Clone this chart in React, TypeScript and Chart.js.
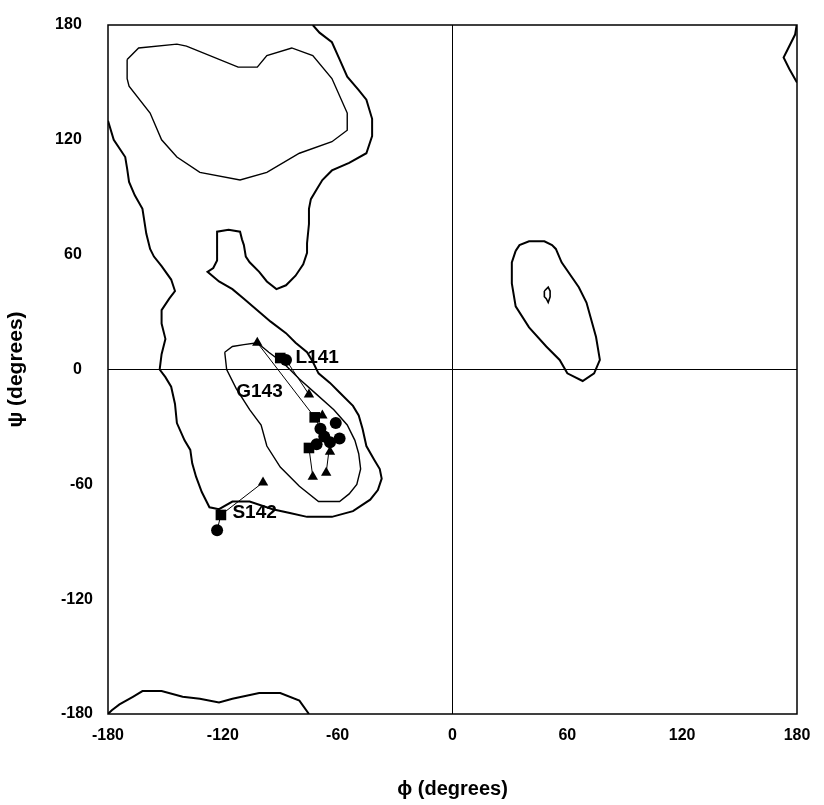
import React, { useEffect, useRef } from "react";
import { Chart, registerables } from "chart.js";

Chart.register(...registerables);

// Axis ticks (degrees)
const axisTicks = [-180, -120, -60, 0, 60, 120, 180];

// Contours: [phi, psi] in degrees
const outerMain: [number, number][] = [
  [-73, 180], [-69.5, 176], [-63, 171], [-59, 162], [-55, 153], [-49, 146], [-45, 141], [-42, 131], [-42, 122],
  [-45, 113], [-54, 108], [-63, 104], [-68, 99], [-71, 94], [-74, 89], [-75, 84], [-75, 76], [-76, 66], [-76, 61],
  [-78, 55], [-82, 49], [-87, 44], [-92, 42], [-97, 46], [-101, 51], [-106, 56], [-108, 59], [-109, 65], [-110, 68],
  [-111, 72], [-117, 73], [-123, 72], [-123, 65], [-123, 57], [-125, 53], [-128, 51], [-122, 46], [-115, 42],
  [-109, 37], [-102, 31], [-95, 25], [-87, 19], [-82, 14], [-76, 9], [-73, 4], [-70, -2], [-64, -7], [-59, -12],
  [-52, -19], [-49, -24], [-47, -31], [-45, -40], [-41, -47], [-38, -52], [-37, -57], [-39, -63], [-43, -68],
  [-52, -74], [-63, -77], [-76, -77], [-85, -75], [-94, -73], [-106, -69], [-115, -69], [-122, -73], [-127, -72],
  [-131, -64], [-134, -56], [-136, -49], [-137, -42], [-140, -37], [-144, -28], [-145, -18], [-147, -9], [-150, -4],
  [-153, 0], [-152, 8], [-150, 16], [-152, 24], [-152, 31], [-148, 37], [-145, 41], [-147, 47], [-152, 54],
  [-156, 59], [-158, 63], [-160, 71], [-162, 84], [-166, 91], [-169, 98], [-170, 105], [-171, 111], [-177, 120],
  [-180, 130],
];

const outerBottom: [number, number][] = [
  [-180, -180], [-178, -178], [-174, -175], [-167, -171], [-162, -168], [-152, -168], [-141, -171], [-132, -172],
  [-122, -174], [-115, -172], [-101, -169], [-90, -169], [-80, -173], [-75, -180],
];

const outerCorner: [number, number][] = [
  [180, 181], [179, 175], [173, 163], [176, 157], [180, 150],
];

const innerBeta: [number, number][] = [
  [-170, 162], [-164, 168], [-144, 170], [-139, 169], [-112, 158], [-102, 158], [-97, 164], [-84, 168], [-73, 164],
  [-63, 152], [-55, 134], [-55, 125], [-63, 119], [-80, 113], [-97, 103], [-111, 99], [-132, 103], [-144, 111],
  [-152, 120], [-158, 134], [-169, 148], [-170, 152], [-170, 162],
];

const innerAlpha: [number, number][] = [
  [-119, 9], [-115, 12], [-109, 13], [-102, 14], [-96, 9], [-88, 3], [-80, -5], [-71, -13], [-62, -21], [-55, -29],
  [-51, -37], [-49, -44], [-48, -52], [-50, -60], [-54, -65], [-59, -69], [-70, -69], [-80, -61], [-90, -51],
  [-97, -40], [-100, -29], [-106, -21], [-113, -10], [-118, 0], [-119, 9],
];

const lobeAlphaL: [number, number][] = [
  [33, 62], [35, 65], [40, 67], [48, 67], [52, 65], [54, 63], [57, 56], [66, 43], [70, 35], [75, 17], [77, 5],
  [74, -2], [68, -6], [60, -2], [56, 5], [49, 12], [40, 22], [33, 33], [31, 45], [31, 56], [33, 62],
];

const lobeAlphaLCore: [number, number][] = [
  [48, 41], [50, 43], [51, 41], [51, 38], [50, 35], [49, 37], [48, 38], [48, 41],
];

// Residue markers (phi, psi)
const circlePoints: [number, number][] = [
  [-87, 5], [-123, -84], [-69, -31], [-71, -39], [-64, -38], [-61, -28], [-59, -36], [-67, -35],
];
const squarePoints: [number, number][] = [
  [-90, 6], [-121, -76], [-72, -25], [-75, -41],
];
const trianglePoints: [number, number][] = [
  [-75, -13], [-99, -59], [-102, 14], [-73, -56], [-66, -54], [-68, -24], [-64, -43],
];

// Traces connecting the same residue
const traceL141: [number, number][] = [[-90, 6], [-87, 5], [-75, -13]];
const traceS142: [number, number][] = [[-123, -84], [-121, -76], [-99, -59]];
const traceG143: [number, number][] = [[-102, 14], [-72, -25], [-69, -31]];
const traceHelixA: [number, number][] = [[-75, -41], [-73, -56]];
const traceHelixB: [number, number][] = [[-64, -38], [-66, -54]];

// Residue labels
const labelTexts = ["L141", "S142", "G143"];
const labelPhi = [-82, -115, -113];
const labelPsi = [6, -75, -11.5];

const FONT = "'Liberation Sans', Arial, Helvetica, sans-serif";

const toXY = (pts: [number, number][]) => pts.map(([x, y]) => ({ x, y }));

const framePlugin = {
  id: "frameAndLabels",
  afterDatasetsDraw(chart: any) {
    const { ctx, chartArea: a, scales } = chart;
    const xs = scales.x;
    const ys = scales.y;
    ctx.save();
    ctx.strokeStyle = "#000";
    ctx.lineWidth = 1.5;
    ctx.strokeRect(a.left, a.top, a.right - a.left, a.bottom - a.top);
    ctx.font = `bold 19px ${FONT}`;
    ctx.fillStyle = "#000";
    ctx.textAlign = "left";
    ctx.textBaseline = "middle";
    labelTexts.forEach((t, i) => {
      ctx.fillText(t, xs.getPixelForValue(labelPhi[i]), ys.getPixelForValue(labelPsi[i]));
    });
    ctx.restore();
  },
};

export default function App() {
  const ref = useRef<HTMLCanvasElement | null>(null);

  useEffect(() => {
    if (!ref.current) return;

    const markerBase = {
      showLine: false,
      backgroundColor: "#000",
      borderColor: "#000",
      borderWidth: 0,
    };
    const lineSet = (pts: [number, number][], width: number) => ({
      data: toXY(pts),
      showLine: true,
      pointRadius: 0,
      pointHoverRadius: 0,
      borderColor: "#000",
      backgroundColor: "#000",
      borderWidth: width,
      fill: false,
      tension: 0,
    });

    const zeroGrid = (c: any) => (c.tick && c.tick.value === 0 ? "#000" : "rgba(0,0,0,0)");

    const chart = new Chart(ref.current, {
      type: "scatter",
      data: {
        datasets: [
          { ...markerBase, data: toXY(circlePoints), pointStyle: "circle", pointRadius: 6 },
          { ...markerBase, data: toXY(squarePoints), pointStyle: "rect", pointRadius: 7.5 },
          { ...markerBase, data: toXY(trianglePoints), pointStyle: "triangle", pointRadius: 6 },
          lineSet(traceL141, 1),
          lineSet(traceS142, 1),
          lineSet(traceG143, 1),
          lineSet(traceHelixA, 1),
          lineSet(traceHelixB, 1),
          lineSet(outerMain, 2),
          lineSet(outerBottom, 2),
          lineSet(outerCorner, 2),
          lineSet(innerBeta, 1.4),
          lineSet(innerAlpha, 1.4),
          lineSet(lobeAlphaL, 2),
          lineSet(lobeAlphaLCore, 1.6),
        ] as any,
      },
      options: {
        responsive: false,
        animation: false,
        devicePixelRatio: 1,
        layout: { padding: { top: 25, right: 27, left: 0, bottom: 0 } },
        plugins: {
          legend: { display: false },
          tooltip: { enabled: false },
          title: { display: false },
        },
        scales: {
          x: {
            type: "linear",
            min: -180,
            max: 180,
            afterBuildTicks: (s: any) => {
              s.ticks = axisTicks.map((v) => ({ value: v }));
            },
            afterFit: (s: any) => {
              s.height = 91;
            },
            ticks: {
              color: "#000",
              font: { family: FONT, size: 16, weight: "bold" },
              padding: 12,
              maxRotation: 0,
              autoSkip: false,
            },
            grid: { drawTicks: false, color: zeroGrid, lineWidth: 1 },
            border: { display: false },
            title: {
              display: true,
              text: "ϕ (degrees)",
              color: "#000",
              font: { family: FONT, size: 20, weight: "bold" },
              padding: { top: 4, bottom: 4 },
            },
          },
          y: {
            type: "linear",
            min: -180,
            max: 180,
            afterBuildTicks: (s: any) => {
              s.ticks = axisTicks.map((v) => ({ value: v }));
            },
            afterFit: (s: any) => {
              s.width = 108;
            },
            ticks: {
              color: "#000",
              font: { family: FONT, size: 16, weight: "bold" },
              padding: 15,
              autoSkip: false,
              callback: (v: any) => (Number(v) >= 0 ? `${v}\u2002\u2009` : `${v}`),
            },
            grid: { drawTicks: false, color: zeroGrid, lineWidth: 1 },
            border: { display: false },
            title: {
              display: true,
              text: "ψ (degrees)",
              color: "#000",
              font: { family: FONT, size: 21, weight: "bold" },
              padding: { top: 4, bottom: 4 },
            },
          },
        },
      } as any,
      plugins: [framePlugin],
    });

    return () => chart.destroy();
  }, []);

  return (
    <div style={{ position: "absolute", left: 0, top: 0, width: 824, height: 805, background: "#fff" }}>
      <canvas ref={ref} width={824} height={805} style={{ display: "block", width: 824, height: 805 }} />
    </div>
  );
}
